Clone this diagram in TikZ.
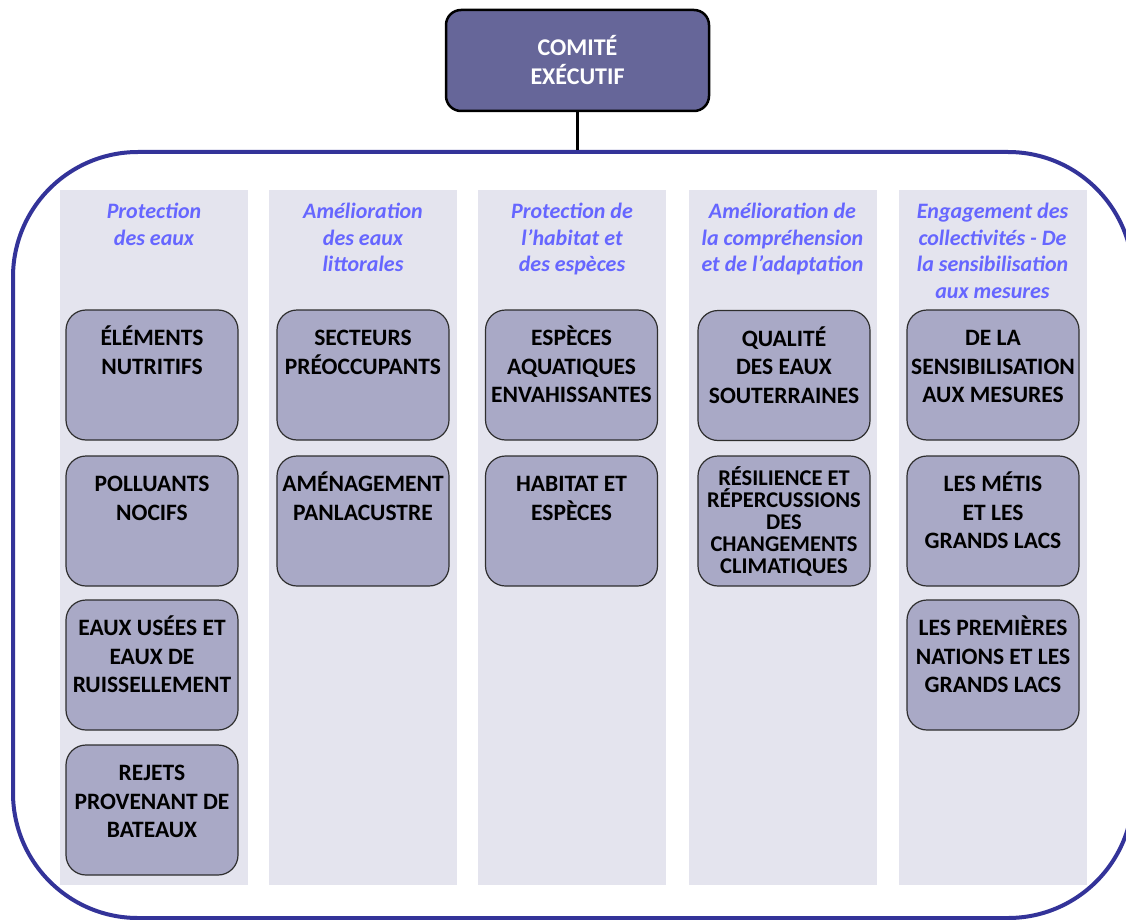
\documentclass[tikz,border=0pt]{standalone}
\usepackage{fontspec}
\setmainfont{Carlito}
\definecolor{framec}{HTML}{333399}
\definecolor{topfill}{HTML}{666699}
\definecolor{colfill}{HTML}{E4E4EE}
\definecolor{boxfill}{HTML}{A9A9C6}
\definecolor{boxline}{HTML}{2E2E2E}
\definecolor{hdrc}{HTML}{6666FF}
\newcommand{\itemtext}[1]{\parbox[c][130pt][t]{172pt}{\centering\rule{0pt}{35.5pt}#1}}
\newcommand{\hdrtext}[1]{\parbox[t]{188pt}{\centering\rule{0pt}{28pt}#1}}
\tikzset{
  frame/.style={draw=framec, line width=4pt, rounded corners=125pt, minimum width=1120pt, minimum height=766pt, inner sep=0pt},
  topbox/.style={draw=black, line width=2.5pt, fill=topfill, rounded corners=15pt, minimum width=263pt, minimum height=101pt, inner sep=0pt, text=white, align=center, font=\fontsize{24}{29}\selectfont\bfseries},
  colbg/.style={fill=colfill, minimum width=188pt, minimum height=694.5pt, inner sep=0pt},
  hdr/.style={anchor=north, inner sep=0pt, text=hdrc, font=\fontsize{22}{27}\selectfont\bfseries\itshape},
  itembox/.style={draw=boxline, line width=1.2pt, fill=boxfill, rounded corners=20pt, inner sep=0pt, text=black, font=\fontsize{23.5}{28.5}\selectfont\bfseries},
  conn/.style={draw=black, line width=3pt}
}
\begin{document}
\begin{tikzpicture}[x=1pt, y=-1pt]
\clip (0,0) rectangle (1126,920);
\fill[white] (0,0) rectangle (1126,920);
% frame
\node[frame] (fr) at (573,535) {};
% top box
\node[topbox] (ce) at (577.5,60.5) {COMITÉ\\EXÉCUTIF};
\draw[conn] (ce.south) -- (ce.south |- fr.north);
% columns
\node[colbg] (c1) at (154,537.25) {};
\node[colbg] (c2) at (363,537.25) {};
\node[colbg] (c3) at (572,537.25) {};
\node[colbg] (c4) at (782.5,537.25) {};
\node[colbg] (c5) at (992.5,537.25) {};
% headers
\node[hdr] (h1) at (c1.north) {\hdrtext{Protection\\des eaux}};
\node[hdr] (h2) at (c2.north) {\hdrtext{Amélioration\\des eaux\\littorales}};
\node[hdr] (h3) at (c3.north) {\hdrtext{Protection de\\l’habitat et\\des espèces}};
\node[hdr] (h4) at (c4.north) {\hdrtext{Amélioration de\\la compréhension\\et de l’adaptation}};
\node[hdr] (h5) at (c5.north) {\hdrtext{Engagement des\\collectivités - De\\la sensibilisation\\aux mesures}};
% column 1
\node[itembox] (b11) at (152,375) {\itemtext{ÉLÉMENTS\\NUTRITIFS}};
\node[itembox] (b12) at (152,521) {\itemtext{POLLUANTS\\NOCIFS}};
\node[itembox] (b13) at (152,665) {\itemtext{EAUX USÉES ET\\EAUX DE\\RUISSELLEMENT}};
\node[itembox] (b14) at (152,810) {\itemtext{REJETS\\PROVENANT DE\\BATEAUX}};
% column 2
\node[itembox] (b21) at (363,375) {\itemtext{SECTEURS\\PRÉOCCUPANTS}};
\node[itembox] (b22) at (363,521) {\itemtext{AMÉNAGEMENT\\PANLACUSTRE}};
% column 3
\node[itembox] (b31) at (571.5,375) {\itemtext{ESPÈCES\\AQUATIQUES\\ENVAHISSANTES}};
\node[itembox] (b32) at (571.5,521) {\itemtext{HABITAT ET\\ESPÈCES}};
% column 4
\node[itembox] (b41) at (784,375.5) {\itemtext{QUALITÉ\\DES EAUX\\SOUTERRAINES}};
\node[itembox, font=\fontsize{22.5}{22}\selectfont\bfseries] (b42) at (784,521) {\parbox[c][130pt][t]{172pt}{\centering\rule{0pt}{29.2pt}RÉSILIENCE ET\\RÉPERCUSSIONS\\DES\\CHANGEMENTS\\CLIMATIQUES}};
% column 5
\node[itembox] (b51) at (993,375) {\itemtext{DE LA\\SENSIBILISATION\\AUX MESURES}};
\node[itembox] (b52) at (993,521) {\itemtext{LES MÉTIS\\ET LES\\GRANDS LACS}};
\node[itembox] (b53) at (993,665) {\itemtext{LES PREMIÈRES\\NATIONS ET LES\\GRANDS LACS}};
\end{tikzpicture}
\end{document}
